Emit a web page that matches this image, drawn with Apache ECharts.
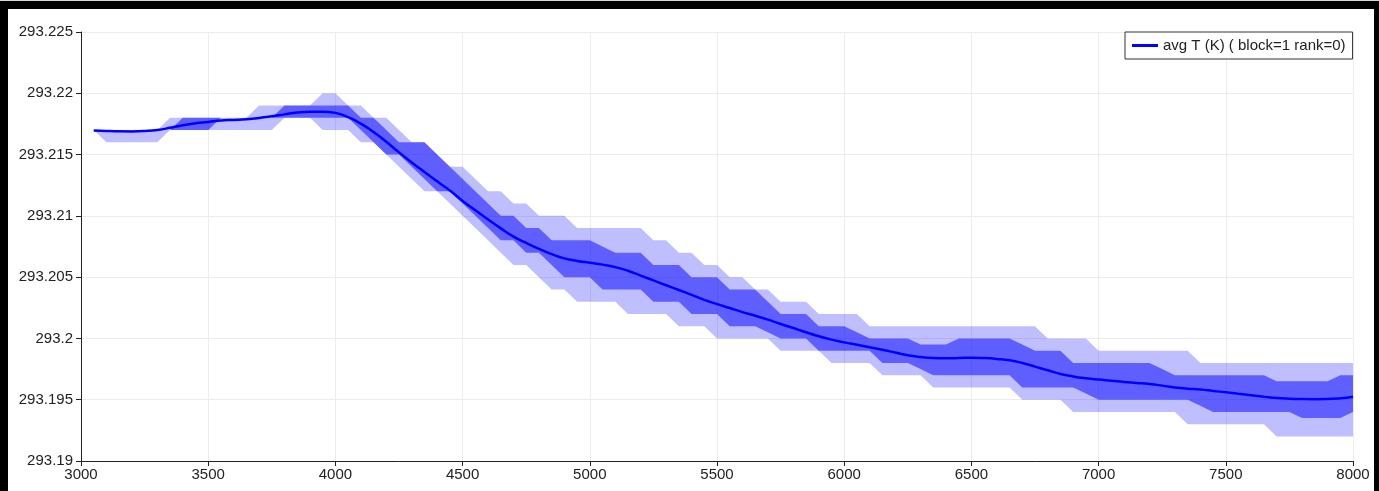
<!DOCTYPE html>
<html>
<head>
<meta charset="utf-8">
<script src="https://cdn.jsdelivr.net/npm/echarts@6/dist/echarts.min.js"></script>
<style>
  html, body { margin: 0; padding: 0; background: #000; width: 1379px; height: 491px; overflow: hidden; }
  #topline { position: absolute; left: 0; top: 0; width: 1379px; height: 1px; background: #d8d8d8; }
  #chart { position: absolute; left: 8px; top: 9px; width: 1366px; height: 482px; background: #fff; }
</style>
</head>
<body>
<div id="topline"></div>
<div id="chart"></div>
<script>
// Time samples
const times = [
  3050, 3100, 3150, 3200, 3250, 3300, 3350, 3400, 3450, 3500,
  3550, 3600, 3650, 3700, 3750, 3800, 3850, 3900, 3950, 4000,
  4050, 4100, 4150, 4200, 4250, 4300, 4350, 4400, 4450, 4500,
  4550, 4600, 4650, 4700, 4750, 4800, 4850, 4900, 4950, 5000,
  5050, 5100, 5150, 5200, 5250, 5300, 5350, 5400, 5450, 5500,
  5550, 5600, 5650, 5700, 5750, 5800, 5850, 5900, 5950, 6000,
  6050, 6100, 6150, 6200, 6250, 6300, 6350, 6400, 6450, 6500,
  6550, 6600, 6650, 6700, 6750, 6800, 6850, 6900, 6950, 7000,
  7050, 7100, 7150, 7200, 7250, 7300, 7350, 7400, 7450, 7500,
  7550, 7600, 7650, 7700, 7750, 7800, 7850, 7900, 7950, 8000
];

// Maximum temperature
const maxT = [
  293.217, 293.217, 293.217, 293.217, 293.217, 293.217, 293.218, 293.218, 293.218, 293.218,
  293.218, 293.218, 293.218, 293.219, 293.219, 293.219, 293.219, 293.219, 293.220, 293.220,
  293.219, 293.219, 293.218, 293.218, 293.217, 293.216, 293.216, 293.215, 293.214, 293.214,
  293.213, 293.212, 293.212, 293.211, 293.211, 293.210, 293.210, 293.210, 293.209, 293.209,
  293.209, 293.209, 293.209, 293.209, 293.208, 293.208, 293.207, 293.207, 293.206, 293.206,
  293.205, 293.205, 293.204, 293.204, 293.203, 293.203, 293.203, 293.202, 293.202, 293.202,
  293.202, 293.201, 293.201, 293.201, 293.201, 293.201, 293.201, 293.201, 293.201, 293.201,
  293.201, 293.201, 293.201, 293.201, 293.201, 293.200, 293.200, 293.200, 293.200, 293.199,
  293.199, 293.199, 293.199, 293.199, 293.199, 293.199, 293.199, 293.198, 293.198, 293.198,
  293.198, 293.198, 293.198, 293.198, 293.198, 293.198, 293.198, 293.198, 293.198, 293.198
];

// Upper quartile
const q3T = [
  293.217, 293.217, 293.217, 293.217, 293.217, 293.217, 293.217, 293.218, 293.218, 293.218,
  293.218, 293.218, 293.218, 293.218, 293.218, 293.219, 293.219, 293.219, 293.219, 293.219,
  293.219, 293.218, 293.218, 293.217, 293.216, 293.216, 293.216, 293.215, 293.214, 293.213,
  293.212, 293.211, 293.210, 293.210, 293.209, 293.209, 293.208, 293.208, 293.208, 293.208,
  293.2075, 293.207, 293.207, 293.207, 293.206, 293.206, 293.206, 293.205, 293.205, 293.205,
  293.204, 293.204, 293.204, 293.203, 293.202, 293.202, 293.202, 293.201, 293.201, 293.201,
  293.2005, 293.200, 293.200, 293.200, 293.200, 293.1995, 293.1995, 293.1995, 293.200, 293.200,
  293.200, 293.200, 293.200, 293.1995, 293.199, 293.199, 293.199, 293.198, 293.198, 293.198,
  293.198, 293.198, 293.198, 293.198, 293.1975, 293.197, 293.197, 293.197, 293.197, 293.197,
  293.197, 293.197, 293.197, 293.1965, 293.1965, 293.1965, 293.1965, 293.1965, 293.197, 293.197
];

// Lower quartile
const q1T = [
  293.217, 293.217, 293.217, 293.217, 293.217, 293.217, 293.217, 293.217, 293.217, 293.217,
  293.218, 293.218, 293.218, 293.218, 293.218, 293.218, 293.218, 293.218, 293.218, 293.218,
  293.218, 293.217, 293.216, 293.215, 293.215, 293.214, 293.213, 293.212, 293.212, 293.211,
  293.210, 293.209, 293.208, 293.208, 293.207, 293.207, 293.206, 293.205, 293.205, 293.205,
  293.204, 293.204, 293.204, 293.204, 293.203, 293.203, 293.203, 293.202, 293.202, 293.202,
  293.201, 293.201, 293.201, 293.2005, 293.200, 293.200, 293.200, 293.199, 293.199, 293.199,
  293.199, 293.199, 293.198, 293.198, 293.198, 293.1975, 293.197, 293.197, 293.197, 293.197,
  293.197, 293.197, 293.197, 293.196, 293.196, 293.196, 293.196, 293.196, 293.1955, 293.195,
  293.195, 293.195, 293.195, 293.195, 293.195, 293.195, 293.195, 293.1945, 293.194, 293.194,
  293.194, 293.194, 293.194, 293.194, 293.194, 293.1935, 293.1935, 293.1935, 293.1935, 293.194
];

// Minimum temperature
const minT = [
  293.217, 293.216, 293.216, 293.216, 293.216, 293.216, 293.217, 293.217, 293.217, 293.217,
  293.217, 293.217, 293.217, 293.217, 293.217, 293.218, 293.218, 293.218, 293.217, 293.217,
  293.217, 293.216, 293.216, 293.215, 293.214, 293.213, 293.212, 293.212, 293.211, 293.210,
  293.209, 293.208, 293.207, 293.206, 293.206, 293.205, 293.204, 293.204, 293.203, 293.203,
  293.203, 293.203, 293.202, 293.202, 293.202, 293.202, 293.201, 293.201, 293.201, 293.200,
  293.200, 293.200, 293.200, 293.200, 293.199, 293.199, 293.199, 293.199, 293.198, 293.198,
  293.198, 293.198, 293.197, 293.197, 293.197, 293.197, 293.196, 293.196, 293.196, 293.196,
  293.196, 293.196, 293.196, 293.195, 293.195, 293.195, 293.195, 293.194, 293.194, 293.194,
  293.194, 293.194, 293.194, 293.194, 293.194, 293.194, 293.193, 293.193, 293.193, 293.193,
  293.193, 293.193, 293.193, 293.192, 293.192, 293.192, 293.192, 293.192, 293.192, 293.192
];

// Average temperature
const avgT = [
  293.21697, 293.21693, 293.21690, 293.21689, 293.21692, 293.21700, 293.21718, 293.21740, 293.21755, 293.21766,
  293.21778, 293.21783, 293.21788, 293.21798, 293.21812, 293.21828, 293.21843, 293.21850, 293.21850, 293.21840,
  293.21805, 293.21752, 293.21685, 293.21605, 293.21518, 293.21436, 293.21358, 293.21282, 293.21207, 293.21122,
  293.21046, 293.20970, 293.20898, 293.20831, 293.20779, 293.20731, 293.20688, 293.20653, 293.20632, 293.20617,
  293.20602, 293.20582, 293.20552, 293.20513, 293.20473, 293.20434, 293.20395, 293.20355, 293.20315, 293.20280,
  293.20248, 293.20215, 293.20185, 293.20153, 293.20118, 293.20085, 293.20050, 293.20018, 293.19990, 293.19968,
  293.19948, 293.19928, 293.19908, 293.19885, 293.19862, 293.19848, 293.19840, 293.19838, 293.19840, 293.19843,
  293.19840, 293.19833, 293.19822, 293.19800, 293.19770, 293.19740, 293.19710, 293.19690, 293.19675, 293.19664,
  293.19655, 293.19645, 293.19637, 293.19628, 293.19615, 293.19600, 293.19590, 293.19584, 293.19572, 293.19560,
  293.19548, 293.19537, 293.19525, 293.19514, 293.19508, 293.19505, 293.19504, 293.19505, 293.19512, 293.19525
];

const xTickLabels = ['3000', '3500', '4000', '4500', '5000', '5500', '6000', '6500', '7000', '7500', '8000'];
const yTickLabels = ['293.19', '293.195', '293.2', '293.205', '293.21', '293.215', '293.22', '293.225'];
const seriesName = 'avg T (K) ( block=1 rank=0)';

const X_MIN = 3000, X_MAX = 8000, X_STEP = 500;
const Y_MIN = 293.19, Y_MAX = 293.225, Y_STEP = 0.005;

const FONT = '"Liberation Sans", Arial, sans-serif';
const TEXT = '#222';

// Filled band between a lower and an upper series, drawn as one polygon
function band(lower, upper, fill, z) {
  return {
    type: 'custom',
    silent: true,
    z: z,
    data: [[times[0], lower[0]]],
    encode: { x: 0, y: 1 },
    renderItem: function (params, api) {
      const top = times.map((t, i) => api.coord([t, upper[i]]));
      const bottom = times.map((t, i) => api.coord([t, lower[i]])).reverse();
      return {
        type: 'polygon',
        shape: { points: top.concat(bottom) },
        style: { fill: fill, stroke: null }
      };
    }
  };
}

const chart = echarts.init(document.getElementById('chart'), null, { renderer: 'canvas' });
chart.setOption({
  animation: false,
  backgroundColor: '#fff',
  grid: { left: 73, right: 21, top: 23, bottom: 30 },
  legend: {
    left: 1117,
    top: 23,
    padding: [6, 7],
    borderColor: '#333',
    borderWidth: 1,
    backgroundColor: '#fff',
    itemWidth: 26,
    itemHeight: 3,
    icon: 'rect',
    textStyle: { fontFamily: FONT, fontSize: 15, color: TEXT },
    data: [{ name: seriesName, itemStyle: { color: '#0000ff' } }]
  },
  xAxis: {
    type: 'value',
    min: X_MIN,
    max: X_MAX,
    interval: X_STEP,
    axisLine: { show: true, onZero: false, lineStyle: { color: '#222', width: 1 } },
    axisTick: { show: true, length: 5, lineStyle: { color: '#222' } },
    axisLabel: {
      color: TEXT, fontFamily: FONT, fontSize: 15, margin: 6,
      formatter: v => xTickLabels[Math.round((v - X_MIN) / X_STEP)]
    },
    splitLine: { show: true, lineStyle: { color: '#ececec', width: 1 } }
  },
  yAxis: {
    type: 'value',
    min: Y_MIN,
    max: Y_MAX,
    interval: Y_STEP,
    axisLine: { show: true, lineStyle: { color: '#222', width: 1 } },
    axisTick: { show: true, length: 5, lineStyle: { color: '#222' } },
    axisLabel: {
      color: TEXT, fontFamily: FONT, fontSize: 15, margin: 8,
      formatter: v => yTickLabels[Math.round((v - Y_MIN) / Y_STEP)]
    },
    splitLine: { show: true, lineStyle: { color: '#ececec', width: 1 } }
  },
  series: [
    band(minT, maxT, 'rgba(0,0,255,0.25)', 1),
    band(q1T, q3T, 'rgba(0,0,255,0.5)', 2),
    {
      name: seriesName,
      type: 'line',
      z: 3,
      smooth: true,
      symbol: 'none',
      showSymbol: false,
      lineStyle: { color: '#0000ff', width: 2.5 },
      itemStyle: { color: '#0000ff' },
      data: times.map((t, i) => [t, avgT[i]])
    }
  ]
});
</script>
</body>
</html>
